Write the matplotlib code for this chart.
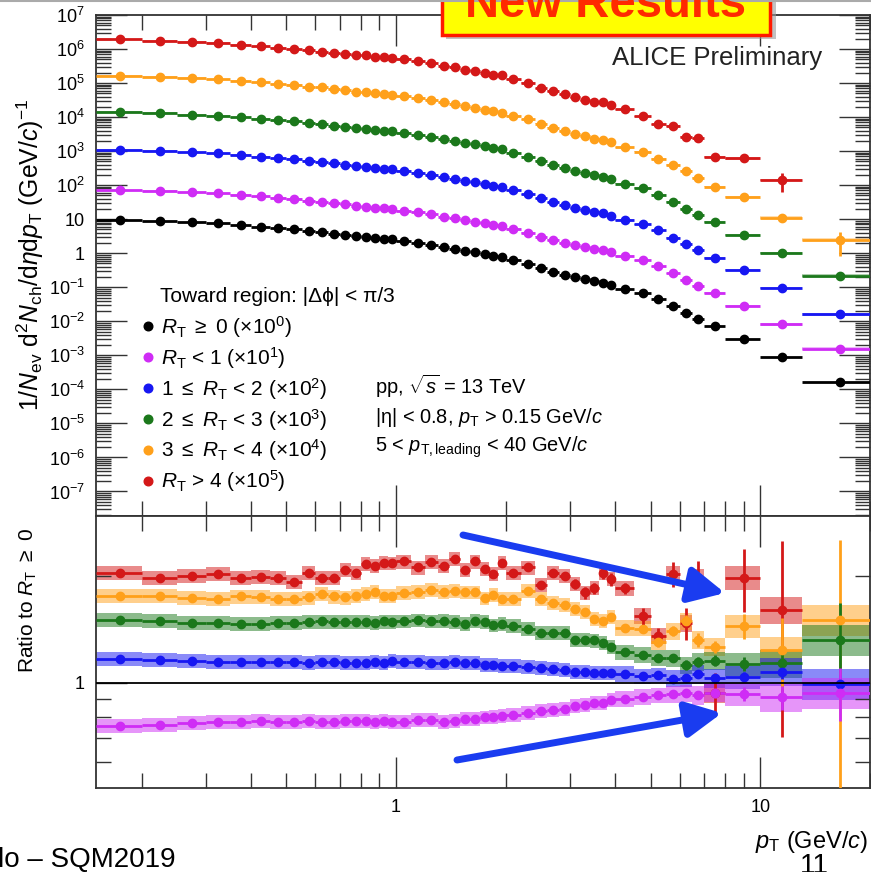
import numpy as np
import matplotlib
matplotlib.use('Agg')
import matplotlib.pyplot as plt
from matplotlib.patches import Rectangle, FancyArrowPatch
from matplotlib.lines import Line2D
from matplotlib.ticker import FixedLocator, NullFormatter, FixedFormatter, LogLocator

plt.rcParams['font.family'] = ['Liberation Sans', 'DejaVu Sans']
plt.rcParams['mathtext.fontset'] = 'custom'
plt.rcParams['mathtext.rm'] = 'Liberation Sans'
plt.rcParams['mathtext.it'] = 'Liberation Sans:italic'
plt.rcParams['mathtext.bf'] = 'Liberation Sans:bold'
plt.rcParams['mathtext.sf'] = 'Liberation Sans'

# ---------------- data ----------------
pt_edges = [0.15, 0.2, 0.25, 0.3, 0.35, 0.4, 0.45, 0.5, 0.55, 0.6, 0.65, 0.7, 0.75, 0.8,
            0.85, 0.9, 0.95, 1.0, 1.1, 1.2, 1.3, 1.4, 1.5, 1.6, 1.7, 1.8, 1.9, 2.0, 2.2,
            2.4, 2.6, 2.8, 3.0, 3.2, 3.4, 3.6, 3.8, 4.0, 4.5, 5.0, 5.5, 6.0, 6.5, 7.0,
            8.0, 10.0, 13.0, 20.0]

# R_T >= 0 spectrum (toward region)
spec_all = [9.4, 8.8, 8.05, 7.5, 6.7, 6.0, 5.4, 5.1, 4.5, 4.2, 3.8, 3.5, 3.2, 3.0,
            2.8, 2.7, 2.55, 2.3, 2.05, 1.75, 1.52, 1.37, 1.2, 1.06, 0.96, 0.84, 0.77,
            0.63, 0.48, 0.37, 0.29, 0.235, 0.2, 0.175, 0.155, 0.138, 0.118, 0.091,
            0.068, 0.045, 0.0275, 0.0178, 0.012, 0.0072, 0.0031, 0.00089, 0.000166]

# ratios to R_T >= 0
ratio_rt4 = [2.036, 1.980, 2.002, 2.028, 1.980, 1.989, 1.980, 1.921, 2.036, 1.980, 1.980,
             2.081, 2.036, 2.164, 2.136, 2.174, 2.170, 2.197, 2.113, 2.188, 2.136, 2.236,
             2.081, 2.197, 2.090, 2.023, 2.174, 2.045, 2.113, 1.888, 2.036, 2.006, 1.896,
             1.797, 1.847, 2.036, 1.959, 1.847, 1.544, 1.356, 2.023, 1.470, 1.972, 0.935,
             1.980, 1.606, np.nan]
ratio_rt34 = [1.758, 1.758, 1.735, 1.724, 1.751, 1.743, 1.721, 1.728, 1.740, 1.781, 1.751,
              1.740, 1.758, 1.777, 1.805, 1.758, 1.762, 1.789, 1.801, 1.831, 1.805, 1.816,
              1.798, 1.798, 1.730, 1.766, 1.728, 1.728, 1.813, 1.728, 1.677, 1.659, 1.619,
              1.582, 1.512, 1.493, 1.537, 1.428, 1.422, 1.302, 1.398, 1.495, 1.322, 1.266,
              1.447, 1.239, 1.505]
ratio_rt23 = [1.505, 1.492, 1.476, 1.476, 1.469, 1.463, 1.472, 1.472, 1.485, 1.489, 1.485,
              1.485, 1.485, 1.482, 1.476, 1.489, 1.482, 1.490, 1.500, 1.490, 1.495, 1.485,
              1.466, 1.495, 1.485, 1.452, 1.466, 1.447, 1.422, 1.383, 1.380, 1.380, 1.322,
              1.322, 1.317, 1.296, 1.263, 1.221, 1.199, 1.178, 1.174, 1.122, 1.146, 1.156,
              1.131, 1.136, 1.322]
ratio_rt12 = [1.166, 1.161, 1.153, 1.148, 1.148, 1.146, 1.148, 1.148, 1.141, 1.143, 1.143,
              1.141, 1.136, 1.136, 1.143, 1.141, 1.151, 1.146, 1.148, 1.141, 1.141, 1.144,
              1.141, 1.137, 1.124, 1.124, 1.117, 1.117, 1.111, 1.104, 1.093, 1.088, 1.076,
              1.076, 1.069, 1.069, 1.065, 1.060, 1.044, 1.051, 1.028, 1.033, 1.057, 1.031,
              1.040, 1.076, 0.992]
ratio_rt01 = [0.757, 0.763, 0.773, 0.775, 0.776, 0.780, 0.776, 0.776, 0.780, 0.775, 0.776,
              0.782, 0.782, 0.780, 0.776, 0.780, 0.778, 0.777, 0.787, 0.787, 0.778, 0.783,
              0.790, 0.792, 0.800, 0.804, 0.807, 0.813, 0.822, 0.834, 0.839, 0.845, 0.861,
              0.867, 0.877, 0.880, 0.896, 0.903, 0.915, 0.923, 0.931, 0.937, 0.922, 0.939,
              0.931, 0.911, 0.939]

# statistical uncertainties of the ratios
stat_rt4 = [0.01, 0.01, 0.01, 0.01, 0.01, 0.01, 0.01, 0.01, 0.01, 0.01, 0.01, 0.01, 0.01,
            0.01, 0.01, 0.01, 0.01, 0.01, 0.015, 0.015, 0.02, 0.02, 0.02, 0.02, 0.025,
            0.025, 0.025, 0.03, 0.03, 0.04, 0.045, 0.05, 0.06, 0.07, 0.07, 0.08, 0.08,
            0.07, 0.085, 0.07, 0.16, 0.15, 0.23, 0.13, 0.4, 0.9, np.nan]
stat_rt34 = [0.005, 0.005, 0.005, 0.005, 0.005, 0.005, 0.005, 0.005, 0.005, 0.005, 0.005,
             0.005, 0.005, 0.005, 0.005, 0.005, 0.005, 0.005, 0.01, 0.01, 0.01, 0.01, 0.01,
             0.01, 0.01, 0.01, 0.01, 0.01, 0.01, 0.015, 0.015, 0.02, 0.02, 0.025, 0.025,
             0.03, 0.03, 0.03, 0.035, 0.04, 0.045, 0.06, 0.06, 0.05, 0.12, 0.28, 1.02]
stat_rt23 = [0.005, 0.005, 0.005, 0.005, 0.005, 0.005, 0.005, 0.005, 0.005, 0.005, 0.005,
             0.005, 0.005, 0.005, 0.005, 0.005, 0.005, 0.005, 0.005, 0.005, 0.005, 0.005,
             0.005, 0.005, 0.005, 0.005, 0.005, 0.01, 0.01, 0.01, 0.01, 0.01, 0.01, 0.015,
             0.015, 0.015, 0.015, 0.02, 0.02, 0.025, 0.03, 0.035, 0.04, 0.04, 0.05, 0.08, 0.36]
stat_rt12 = [0.005, 0.005, 0.005, 0.005, 0.005, 0.005, 0.005, 0.005, 0.005, 0.005, 0.005,
             0.005, 0.005, 0.005, 0.005, 0.005, 0.005, 0.005, 0.005, 0.005, 0.005, 0.005,
             0.005, 0.005, 0.005, 0.005, 0.005, 0.005, 0.005, 0.005, 0.005, 0.005, 0.005,
             0.005, 0.005, 0.005, 0.005, 0.01, 0.01, 0.01, 0.015, 0.015, 0.02, 0.03, 0.03,
             0.05, 0.06]
stat_rt01 = [0.005, 0.005, 0.005, 0.005, 0.005, 0.005, 0.005, 0.005, 0.005, 0.005, 0.005,
             0.005, 0.005, 0.005, 0.005, 0.005, 0.005, 0.005, 0.005, 0.005, 0.005, 0.005,
             0.005, 0.005, 0.005, 0.005, 0.005, 0.005, 0.005, 0.005, 0.005, 0.005, 0.005,
             0.005, 0.005, 0.005, 0.005, 0.01, 0.01, 0.01, 0.015, 0.015, 0.02, 0.03, 0.04,
             0.07, 0.16]

# relative systematic uncertainty (boxes)
sys_frac = [0.045, 0.045, 0.045, 0.045, 0.045, 0.045, 0.045, 0.045, 0.045, 0.045, 0.045,
            0.045, 0.045, 0.045, 0.045, 0.045, 0.045, 0.045, 0.045, 0.045, 0.045, 0.045,
            0.045, 0.045, 0.045, 0.045, 0.045, 0.045, 0.045, 0.045, 0.045, 0.045, 0.045,
            0.045, 0.045, 0.045, 0.045, 0.05, 0.05, 0.05, 0.055, 0.055, 0.06, 0.06, 0.075,
            0.09, 0.10]

series_labels = [r'$R_{\mathrm{T}}$ $\geq$ 0 ($\times$10$^{0}$)',
                 r'$R_{\mathrm{T}}$ < 1 ($\times$10$^{1}$)',
                 r'1 $\leq$ $R_{\mathrm{T}}$ < 2 ($\times$10$^{2}$)',
                 r'2 $\leq$ $R_{\mathrm{T}}$ < 3 ($\times$10$^{3}$)',
                 r'3 $\leq$ $R_{\mathrm{T}}$ < 4 ($\times$10$^{4}$)',
                 r'$R_{\mathrm{T}}$ > 4 ($\times$10$^{5}$)']
scale_exp = [0, 1, 2, 3, 4, 5]
colors = ['#000000', '#cf2cf5', '#1717f2', '#1b781b', '#ffa01a', '#d41818']

ratios = [None, ratio_rt01, ratio_rt12, ratio_rt23, ratio_rt34, ratio_rt4]
stats = [None, stat_rt01, stat_rt12, stat_rt23, stat_rt34, stat_rt4]

# ---------------- figure ----------------
W, H = 871, 872
fig = plt.figure(figsize=(W / 100, H / 100), dpi=100)


def fx(x):
    return x / W


def fy(y):
    return 1 - y / H


ax1 = fig.add_axes([fx(96), fy(516), fx(870) - fx(96), fy(15) - fy(516)])
ax2 = fig.add_axes([fx(96), fy(788), fx(870) - fx(96), fy(516) - fy(788)])

edges = np.array(pt_edges)
centers = 0.5 * (edges[:-1] + edges[1:])
xlo = centers - edges[:-1]
xhi = edges[1:] - centers
widths = np.diff(edges)
base = np.array(spec_all)
sysf = np.array(sys_frac)

draw_order = [5, 4, 3, 2, 1]
MS = 6.0
ELW = 2.0

# ----- spectra (top) -----
ax1.errorbar(centers, base, xerr=[xlo, xhi], fmt='o', color=colors[0], ms=MS,
             elinewidth=ELW, capsize=0, zorder=3)
for i in draw_order:
    r = np.array(ratios[i])
    s = np.array(stats[i])
    y = base * r * 10.0 ** scale_exp[i]
    ey = y * s / r
    ok = np.isfinite(y)
    ax1.bar(edges[:-1][ok], 2 * (y * sysf)[ok], bottom=(y * (1 - sysf))[ok],
            width=widths[ok], align='edge', color=colors[i], alpha=0.35, linewidth=0)
    ax1.errorbar(centers[ok], y[ok], xerr=[xlo[ok], xhi[ok]], yerr=ey[ok], fmt='o',
                 color=colors[i], ms=MS, elinewidth=ELW, capsize=0, zorder=3)

# ----- ratios (bottom) -----
for i in draw_order:
    r = np.array(ratios[i])
    s = np.array(stats[i])
    ok = np.isfinite(r)
    sy = r * sysf
    ax2.bar(edges[:-1][ok], 2 * sy[ok], bottom=(r - sy)[ok], width=widths[ok],
            align='edge', color=colors[i], alpha=0.5, linewidth=0)
    ax2.errorbar(centers[ok], r[ok], xerr=[xlo[ok], xhi[ok]], yerr=s[ok], fmt='o',
                 color=colors[i], ms=MS, elinewidth=ELW, capsize=0, zorder=3)
ax2.axhline(1.0, color='black', lw=1.3, zorder=4)

# ----- axes styling -----
x_minor = [0.2, 0.3, 0.4, 0.5, 0.6, 0.7, 0.8, 0.9, 2, 3, 4, 5, 6, 7, 8, 9, 20]
for ax in (ax1, ax2):
    ax.set_xscale('log')
    ax.set_yscale('log')
    ax.set_xlim(0.15, 20)
    ax.xaxis.set_major_locator(FixedLocator([1, 10]))
    ax.xaxis.set_minor_locator(FixedLocator(x_minor))
    ax.xaxis.set_minor_formatter(NullFormatter())
    ax.tick_params(which='both', direction='in', top=True, right=True, labelsize=13,
                   width=1.0, color='#333333')
    ax.tick_params(which='major', length=22, pad=8)
    ax.tick_params(which='minor', length=11)
    for sp in ax.spines.values():
        sp.set_linewidth(1.3)
        sp.set_color('#333333')

ax1.set_ylim(10 ** -7.72, 1e7)
ax1.xaxis.set_major_formatter(NullFormatter())
ydec = list(range(-7, 8))
ylabels = []
for e in ydec:
    if e == 0:
        ylabels.append('1')
    elif e == 1:
        ylabels.append('10')
    else:
        ylabels.append(r'10$^{%d}$' % e if e > 0 else r'10$^{\mathrm{-%d}}$' % (-e))
ax1.yaxis.set_major_locator(FixedLocator([10.0 ** e for e in ydec]))
ax1.yaxis.set_major_formatter(FixedFormatter(ylabels))
ax1.yaxis.set_minor_locator(LogLocator(base=10, subs=np.arange(2, 10), numticks=100))
ax1.yaxis.set_minor_formatter(NullFormatter())

ax2.set_ylim(0.506, 2.95)
ax2.yaxis.set_major_locator(FixedLocator([1.0]))
ax2.yaxis.set_major_formatter(FixedFormatter(['1']))
ax2.yaxis.set_minor_locator(FixedLocator([0.6, 0.7, 0.8, 0.9, 2.0]))
ax2.yaxis.set_minor_formatter(NullFormatter())
ax2.xaxis.set_major_formatter(FixedFormatter(['1', '10']))

# ----- axis titles -----
fig.text(fx(30), fy(255),
         r'1/$N_{\mathrm{ev}}$ d$^{2}$$N_{\mathrm{ch}}$/d$\eta$d$p_{\mathrm{T}}$ (GeV/$c$)$^{\mathrm{-1}}$',
         rotation=90, ha='center', va='center', fontsize=17.8)
fig.text(fx(28), fy(600), r'Ratio to $R_{\mathrm{T}}$ $\geq$ 0', rotation=90,
         ha='center', va='center', fontsize=15)
fig.text(fx(868), fy(842), r'$p_{\mathrm{T}}$ (GeV/$c$)', ha='right', va='center',
         fontsize=17)

# ----- legend -----
fig.text(fx(160), fy(296), 'Toward region: |Δϕ| < π/3', ha='left', va='center', fontsize=15)
handles = [Line2D([], [], marker='o', ls='none', color=colors[i], ms=6.2) for i in range(6)]
leg = ax1.legend(handles, series_labels,
                 loc='upper left', bbox_to_anchor=(fx(142), fy(314)),
                 bbox_transform=fig.transFigure, frameon=False, fontsize=15,
                 handlelength=0.6, handletextpad=0.3,
                 labelspacing=0.24, borderaxespad=0, borderpad=0)

# ----- text block -----
fig.text(fx(375), fy(386), r'pp, $\sqrt{s}$ = 13 TeV', ha='left', va='center', fontsize=14.4)
fig.text(fx(375), fy(417), r'|η| < 0.8, $p_{\mathrm{T}}$ > 0.15 GeV/$c$', ha='left',
         va='center', fontsize=14.4)
fig.text(fx(375), fy(447), r'5 < $p_{\mathrm{T,leading}}$ < 40 GeV/$c$', ha='left',
         va='center', fontsize=14.4)
fig.text(fx(612), fy(58), 'ALICE Preliminary', ha='left', va='center', fontsize=18.5,
         color='#222222')

# ----- arrows -----
arrow_kw = dict(arrowstyle='-|>,head_length=0.9,head_width=0.45', color='#1a3cf0', lw=5,
                shrinkA=0, shrinkB=0, mutation_scale=24)
fig.add_artist(FancyArrowPatch((fx(463), fy(535)), (fx(725), fy(593)),
                               transform=fig.transFigure, **arrow_kw))
fig.add_artist(FancyArrowPatch((fx(457), fy(760)), (fx(722), fy(713)),
                               transform=fig.transFigure, **arrow_kw))

# ----- slide decorations -----
fig.add_artist(Line2D([0, 1], [fy(1.5), fy(1.5)], transform=fig.transFigure,
                      color='#aaaaaa', lw=1.5))
fig.add_artist(Rectangle((fx(446), fy(39)), fx(330), fy(0) - fy(37),
                         transform=fig.transFigure, facecolor='#9a9a9a', edgecolor='none',
                         alpha=0.6))
fig.add_artist(Rectangle((fx(442), fy(35)), fx(328), fy(-5) - fy(35),
                         transform=fig.transFigure, facecolor='#ffff00', edgecolor='#ff1a00',
                         lw=2.5))
fig.text(fx(606), fy(17), 'New Results', ha='center', va='baseline', fontsize=34,
         fontweight='bold', color='#ff2a00')
fig.text(fx(-2), fy(867), 'lo – SQM2019', ha='left', va='baseline', fontsize=20)
fig.text(fx(800), fy(873), '11', ha='left', va='baseline', fontsize=20)

fig.savefig('out.png', dpi=100)
